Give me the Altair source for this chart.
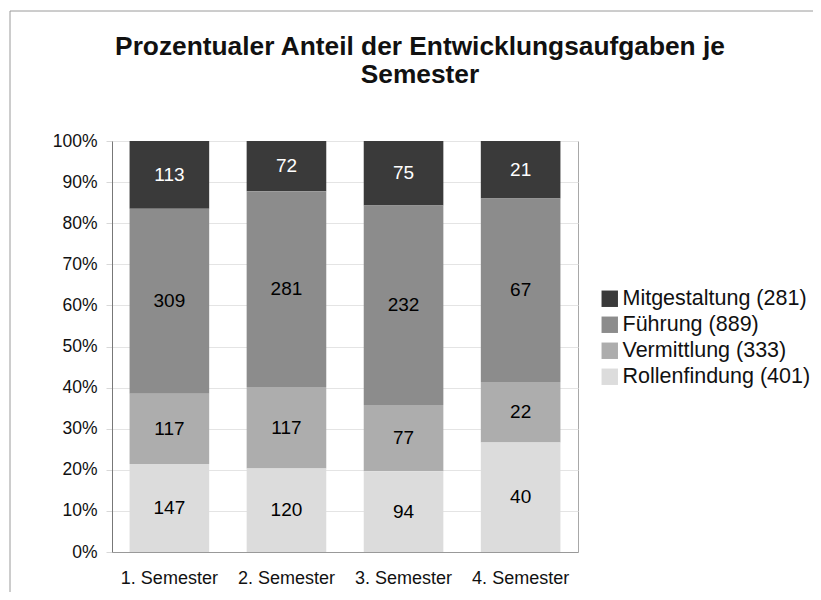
import altair as alt
import pandas as pd

# ---- data ----
semesters = ["1. Semester", "2. Semester", "3. Semester", "4. Semester"]
categories = ["Mitgestaltung", "Führung", "Vermittlung", "Rollenfindung"]
mitgestaltung = [113, 72, 75, 21]
fuehrung = [309, 281, 232, 67]
vermittlung = [117, 117, 77, 22]
rollenfindung = [147, 120, 94, 40]
y_ticks = [0, 0.1, 0.2, 0.3, 0.4, 0.5, 0.6, 0.7, 0.8, 0.9, 1.0]
title_text = "Prozentualer Anteil der Entwicklungsaufgaben je\nSemester"

# ---- styles ----
colors = ["#3a3a3a", "#8c8c8c", "#adadad", "#dcdcdc"]
label_colors = ["white", "black", "black", "black"]
stack_order = [3, 2, 1, 0]
FONT = "Liberation Sans"

series = [mitgestaltung, fuehrung, vermittlung, rollenfindung]
legend_labels = [f"{c} ({sum(v)})" for c, v in zip(categories, series)]

rows = []
for lab, vals, order, lc in zip(legend_labels, series, stack_order, label_colors):
    for sem, v in zip(semesters, vals):
        rows.append({"semester": sem, "kategorie": lab, "wert": v, "ord": order, "lc": lc})
df = pd.DataFrame(rows)

base = alt.Chart(df).transform_stack(
    stack="wert",
    groupby=["semester"],
    as_=["y0", "y1"],
    sort=[alt.SortField("ord", order="ascending")],
    offset="normalize",
).transform_calculate(ym="(datum.y0 + datum.y1) / 2")

x_enc = alt.X(
    "semester:N",
    sort=semesters,
    scale=alt.Scale(paddingInner=0.32, paddingOuter=0.15),
    axis=alt.Axis(
        title=None, labelAngle=0, ticks=False, labelFontSize=18, labelPadding=17,
        domainColor="#999999", labelColor="#111111", grid=False,
    ),
)

bars = base.mark_bar().encode(
    x=x_enc,
    y=alt.Y(
        "y0:Q",
        scale=alt.Scale(domain=[0, 1]),
        axis=alt.Axis(
            title=None, format=".0%", values=y_ticks, labelFontSize=17.5,
            tickSize=6, tickColor="#d8d8d8", labelPadding=9, domainColor="#777777",
            gridColor="#e4e4e4", labelColor="#111111",
        ),
    ),
    y2="y1:Q",
    color=alt.Color(
        "kategorie:N",
        scale=alt.Scale(domain=legend_labels, range=colors),
        legend=alt.Legend(
            title=None, orient="none", legendX=487, legendY=147, labelFontSize=21.5,
            symbolType="square", symbolSize=270, symbolStrokeWidth=0, padding=0,
            rowPadding=3, labelOffset=2, labelColor="#111111", labelLimit=0,
        ),
    ),
)

labels = base.mark_text(fontSize=19, font=FONT).encode(
    x=alt.X("semester:N", sort=semesters),
    y=alt.Y("ym:Q"),
    text=alt.Text("wert:Q"),
    color=alt.Color("lc:N", scale=None),
)

deco_df = pd.DataFrame({"t": [title_text]})
title = alt.Chart(deco_df).mark_text(
    font=FONT, fontSize=26.3, fontWeight="bold", align="center",
    baseline="alphabetic", lineBreak="\n", lineHeight=28, color="#111111",
).encode(x=alt.value(308), y=alt.value(-86), text="t:N")

frame_top = alt.Chart(deco_df).mark_rule(color="#9a9a9a", strokeWidth=1).encode(
    x=alt.value(-102), x2=alt.value(709), y=alt.value(-130)
)
frame_left = alt.Chart(deco_df).mark_rule(color="#9a9a9a", strokeWidth=1).encode(
    x=alt.value(-102), y=alt.value(-130), y2=alt.value(459)
)

chart = alt.layer(frame_top, frame_left, title, bars, labels).properties(
    width=466,
    height=411,
    autosize=alt.AutoSizeParams(type="none"),
    padding={"left": 104, "top": 133, "right": 235, "bottom": 40},
).configure(font=FONT).configure_view(stroke="#a8a8a8")

chart.save("out.html", embed_options={"renderer": "svg", "actions": False})
